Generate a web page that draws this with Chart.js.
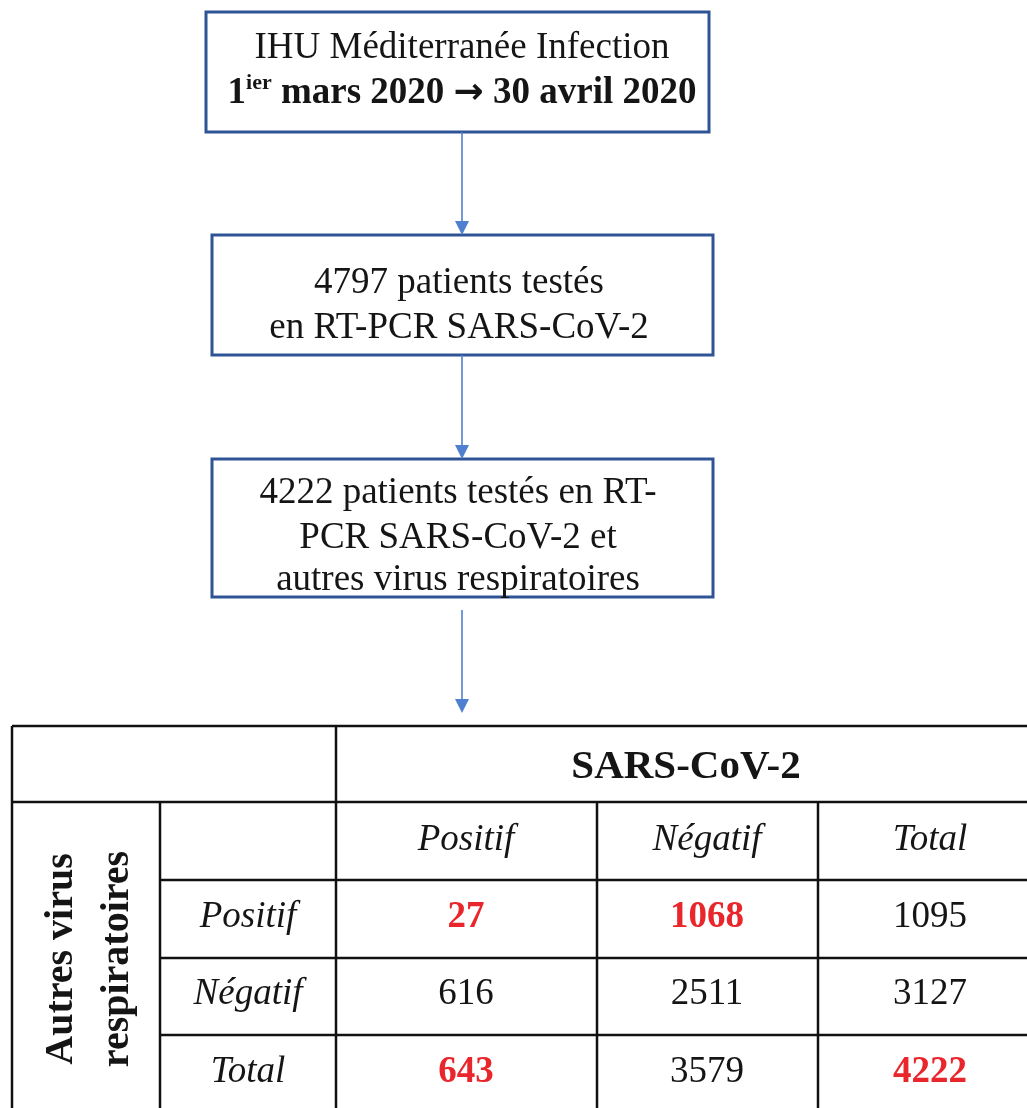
<!DOCTYPE html>
<html>
<head>
<meta charset="utf-8">
<script src="https://cdn.jsdelivr.net/npm/chart.js@4"></script>
<style>
  html, body { margin: 0; padding: 0; background: #fff; }
  #wrap { width: 1027px; height: 1108px; position: relative; }
</style>
</head>
<body>
<div id="wrap"><canvas id="c"></canvas></div>
<script>
// flowchart steps (text only)
const stepTitle = ['IHU Méditerranée Infection'];
const stepPeriod = ['1', 'ier', ' mars 2020 ', '→', ' 30 avril 2020'];
const stepTested = ['4797 patients testés', 'en RT-PCR SARS-CoV-2'];
const stepBoth = ['4222 patients testés en RT-', 'PCR SARS-CoV-2 et', 'autres virus respiratoires'];

// contingency table
const colTitle = 'SARS-CoV-2';
const rowTitle = ['Autres virus', 'respiratoires'];
const colLabels = ['Positif', 'Négatif', 'Total'];
const rowLabels = ['Positif', 'Négatif', 'Total'];
const sarsPositif = [27, 616, 643];
const sarsNegatif = [1068, 2511, 3579];
const sarsTotal = [1095, 3127, 4222];
const highlighted = [[0, 0], [0, 1], [2, 0], [2, 2]]; // [row, col]

// layout (drawing units == pixels of the 1027x1108 page)
const BOX_BLUE = '#2f5496';
const ARROW_BLUE = '#4f7fcf';
const RED = '#e8262b';
const INK = '#151515';
const SERIF = "'Liberation Serif', 'DejaVu Serif', serif";

const boxes = [
  { x0: 206, y0: 12, x1: 709, y1: 132 },
  { x0: 212, y0: 235, x1: 713, y1: 355 },
  { x0: 212, y0: 459, x1: 713, y1: 597 }
];
const arrows = [[132, 235], [355, 459], [610, 713]];
const arrowX = 462;

const tblCols = [12, 160, 336, 597, 818, 1042];
const tblRows = [726, 802, 880, 958, 1035, 1112];

const flowPlugin = {
  id: 'flow',
  afterDraw(chart) {
    const ctx = chart.ctx;
    const sx = chart.scales.x, sy = chart.scales.y;
    const X = v => sx.getPixelForValue(v);
    const Y = v => sy.getPixelForValue(v);

    ctx.save();
    // boxes
    ctx.strokeStyle = BOX_BLUE;
    ctx.lineWidth = 3;
    boxes.forEach(b => {
      ctx.strokeRect(X(b.x0), Y(b.y0), X(b.x1) - X(b.x0), Y(b.y1) - Y(b.y0));
    });

    // arrows
    arrows.forEach(([a, b]) => {
      ctx.strokeStyle = ARROW_BLUE;
      ctx.fillStyle = ARROW_BLUE;
      ctx.lineWidth = 1.6;
      ctx.beginPath();
      ctx.moveTo(X(arrowX), Y(a));
      ctx.lineTo(X(arrowX), Y(b - 12));
      ctx.stroke();
      ctx.beginPath();
      ctx.moveTo(X(arrowX - 7), Y(b - 14));
      ctx.lineTo(X(arrowX + 7), Y(b - 14));
      ctx.lineTo(X(arrowX), Y(b));
      ctx.closePath();
      ctx.fill();
    });

    // box texts
    ctx.fillStyle = INK;
    ctx.textBaseline = 'alphabetic';
    ctx.textAlign = 'center';
    ctx.font = '37px ' + SERIF;
    ctx.fillText(stepTitle[0], X(462), Y(58));

    // period line with superscript and heavy arrow
    const fonts = [
      'bold 37px ' + SERIF,
      'bold 22px ' + SERIF,
      'bold 37px ' + SERIF,
      "bold 36px 'DejaVu Sans', sans-serif",
      'bold 37px ' + SERIF
    ];
    const lifts = [0, 14, 0, 0, 0];
    const widths = stepPeriod.map((t, i) => { ctx.font = fonts[i]; return ctx.measureText(t).width; });
    let px = X(462) - widths.reduce((a, b) => a + b, 0) / 2;
    ctx.textAlign = 'left';
    stepPeriod.forEach((t, i) => {
      ctx.font = fonts[i];
      ctx.fillText(t, px, Y(103 - lifts[i]));
      px += widths[i];
    });

    ctx.textAlign = 'center';
    ctx.font = '37px ' + SERIF;
    stepTested.forEach((t, i) => ctx.fillText(t, X(459), Y(293 + i * 45)));
    [503, 548, 590].forEach((yy, i) => ctx.fillText(stepBoth[i], X(458), Y(yy)));

    // table grid
    ctx.strokeStyle = '#111';
    ctx.lineWidth = 2.5;
    const line = (x0, y0, x1, y1) => {
      ctx.beginPath(); ctx.moveTo(X(x0), Y(y0)); ctx.lineTo(X(x1), Y(y1)); ctx.stroke();
    };
    const right = tblCols[tblCols.length - 1], bottom = tblRows[tblRows.length - 1];
    line(tblCols[0], tblRows[0], right, tblRows[0]);
    line(tblCols[0], tblRows[1], right, tblRows[1]);
    for (let r = 2; r < tblRows.length - 1; r++) line(tblCols[1], tblRows[r], right, tblRows[r]);
    line(tblCols[0], tblRows[0], tblCols[0], bottom);
    line(tblCols[1], tblRows[1], tblCols[1], bottom);
    line(tblCols[2], tblRows[0], tblCols[2], bottom);
    line(tblCols[3], tblRows[1], tblCols[3], bottom);
    line(tblCols[4], tblRows[1], tblCols[4], bottom);

    // table header
    ctx.fillStyle = INK;
    ctx.font = 'bold 41px ' + SERIF;
    ctx.fillText(colTitle, X(686), Y(778));
    const colCenters = [466, 707, 930];
    ctx.font = 'italic 37px ' + SERIF;
    colLabels.forEach((t, i) => ctx.fillText(t, X(colCenters[i]), Y(850)));
    const rowBase = [927, 1004, 1082];
    rowLabels.forEach((t, i) => ctx.fillText(t, X(248), Y(rowBase[i])));

    // values
    const cols = [sarsPositif, sarsNegatif, sarsTotal];
    rowBase.forEach((yy, r) => {
      cols.forEach((arr, c) => {
        const hot = highlighted.some(h => h[0] === r && h[1] === c);
        ctx.font = (hot ? 'bold ' : '') + '37px ' + SERIF;
        ctx.fillStyle = hot ? RED : INK;
        ctx.fillText(String(arr[r]), X(colCenters[c]), Y(yy));
      });
    });

    // rotated row title
    ctx.fillStyle = INK;
    ctx.font = 'bold 40px ' + SERIF;
    ctx.rotate(-Math.PI / 2);
    ctx.fillText(rowTitle[0], -Y(959), X(72));
    ctx.fillText(rowTitle[1], -Y(959), X(128));
    ctx.restore();
  }
};

new Chart(document.getElementById('c'), {
  type: 'scatter',
  data: { datasets: [] },
  options: {
    responsive: true,
    maintainAspectRatio: false,
    animation: false,
    layout: { padding: 0 },
    plugins: { legend: { display: false }, tooltip: { enabled: false } },
    scales: {
      x: { type: 'linear', min: 0, max: 1027, display: false },
      y: { type: 'linear', min: 0, max: 1108, reverse: true, display: false }
    }
  },
  plugins: [flowPlugin]
});
</script>
</body>
</html>
